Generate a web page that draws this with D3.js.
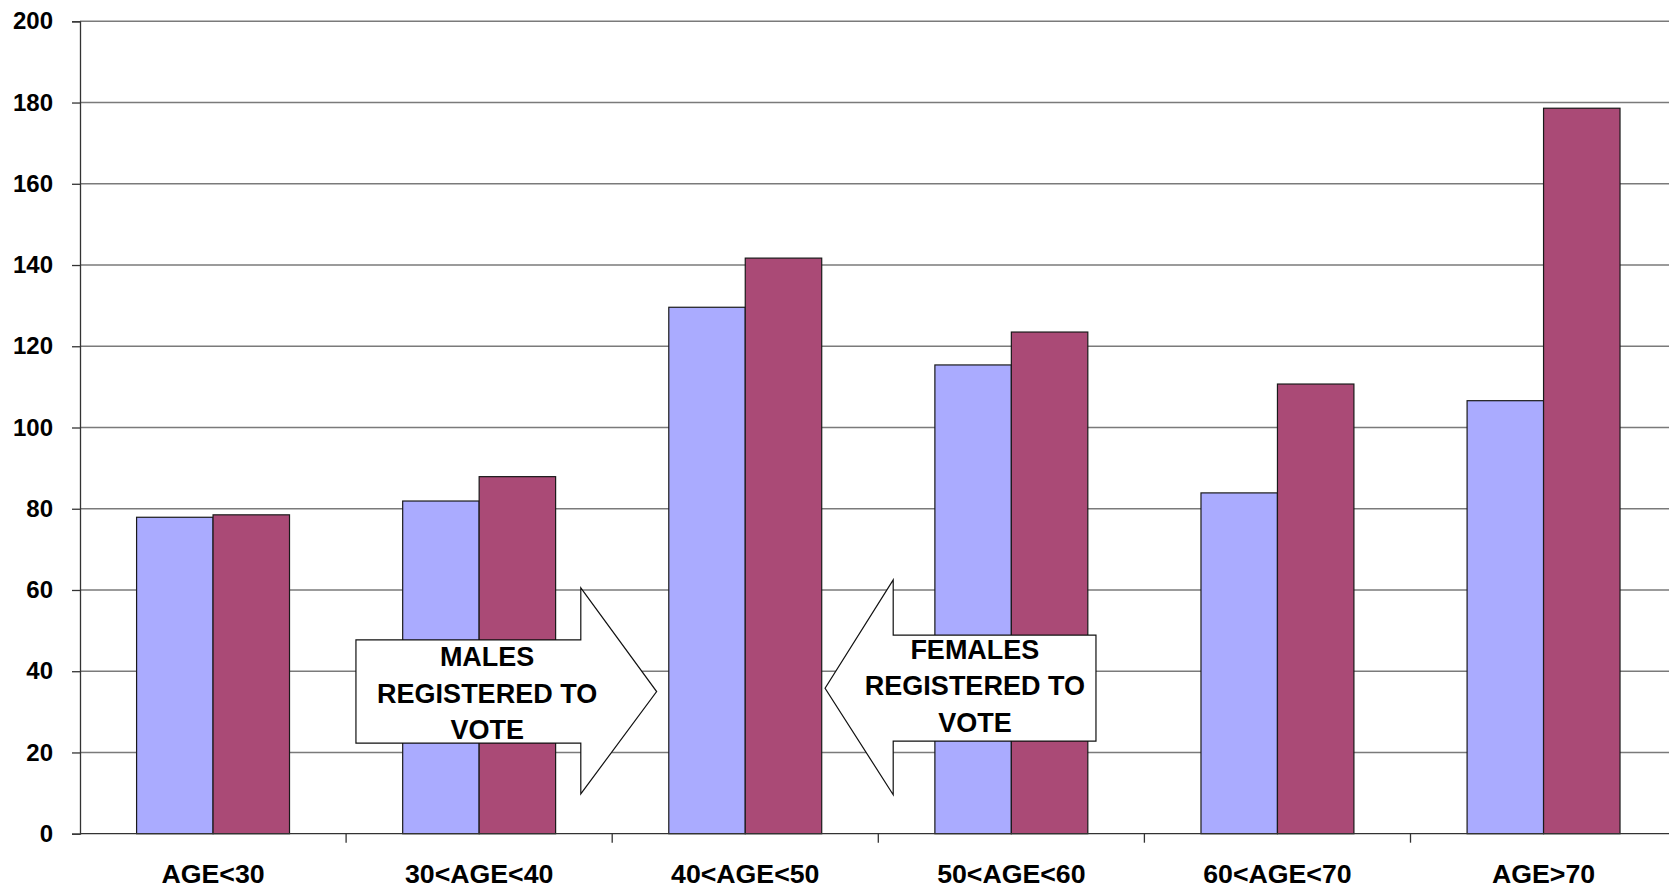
<!DOCTYPE html>
<html lang="en">
<head>
    <meta charset="UTF-8">
    <title>Registered voters by age</title>
    <style>
        body { margin: 0; background: #fff; }
        svg { display: block; }
        .grid line { stroke: #7a7a7a; stroke-width: 1.5; }
        .axis text { font-family: "Liberation Sans", Arial, sans-serif; font-weight: bold; fill: #000; }
        .axis path, .axis line { stroke: #333; stroke-width: 1.3; }
        .note text { font-family: "Liberation Sans", Arial, sans-serif; font-weight: bold; font-size: 27px; fill: #000; }
    </style>
</head>
<body>
    <div id="chart"></div>
    <script src="https://d3js.org/d3.v7.min.js"></script>
    <script>
        // data
        const categories = ["AGE<30", "30<AGE<40", "40<AGE<50", "50<AGE<60", "60<AGE<70", "AGE>70"];
        const series = ["males", "females"];
        const males = [77.9, 81.9, 129.6, 115.4, 83.9, 106.6];
        const females = [78.5, 87.9, 141.7, 123.5, 110.7, 178.6];
        const yTicks = [0, 20, 40, 60, 80, 100, 120, 140, 160, 180, 200];
        const colors = { males: "#aaabff", females: "#aa4a76" };

        // arrow notes: x in category units, y in value units
        const notes = [
            { lines: ["MALES", "REGISTERED TO", "VOTE"], dir: 1, back: 1.037, base: 1.882, tip: 2.167,
              boxTop: 47.7, boxBot: 22.3, headTop: 60.5, headBot: 9.8, mid: 35, textX: 1.530, textY: [666, 702.5, 738.5] },
            { lines: ["FEMALES", "REGISTERED TO", "VOTE"], dir: -1, back: 3.818, base: 3.056, tip: 2.800,
              boxTop: 48.9, boxBot: 22.8, headTop: 62.5, headBot: 9.6, mid: 35.8, textX: 3.363, textY: [659, 694.5, 731.5] }
        ];

        const width = 1669, height = 887;
        const plotLeft = 80, plotTop = 21.3, plotBottom = 833.7, band = 266.1;

        const svg = d3.select("#chart").append("svg")
            .attr("width", width)
            .attr("height", height);

        const y = d3.scaleLinear().domain([0, 200]).range([plotBottom, plotTop]);
        const x0 = d3.scaleBand().domain(categories).range([plotLeft, plotLeft + band * categories.length]);
        const x1 = d3.scaleBand().domain(series).range([0, x0.bandwidth()]).paddingOuter(0.74);
        const xc = d3.scaleLinear().domain([0, categories.length]).range([plotLeft, plotLeft + band * categories.length]);

        // gridlines
        svg.append("g").attr("class", "grid")
            .selectAll("line")
            .data(yTicks.filter(d => d > 0))
            .enter().append("line")
            .attr("x1", plotLeft).attr("x2", width)
            .attr("y1", d => y(d)).attr("y2", d => y(d));

        // bars
        const rows = categories.map((c, i) => ({ cat: c, males: males[i], females: females[i] }));
        svg.append("g")
            .selectAll("g")
            .data(rows)
            .enter().append("g")
            .attr("transform", d => `translate(${x0(d.cat)},0)`)
            .selectAll("rect")
            .data(d => series.map(s => ({ key: s, value: d[s] })))
            .enter().append("rect")
            .attr("x", d => x1(d.key))
            .attr("width", x1.bandwidth())
            .attr("y", d => y(d.value))
            .attr("height", d => y(0) - y(d.value))
            .attr("fill", d => colors[d.key])
            .attr("stroke", "#1a1a1a")
            .attr("stroke-width", 1.2);

        // y axis
        const yAxis = svg.append("g").attr("class", "axis")
            .attr("transform", `translate(${plotLeft},0)`)
            .call(d3.axisLeft(y).tickValues(yTicks).tickSizeOuter(0).tickSize(8).tickPadding(19));
        yAxis.selectAll("text").style("font-size", "24px");

        // x axis, ticks between categories
        const xAxis = svg.append("g").attr("class", "axis")
            .attr("transform", `translate(0,${plotBottom})`);
        xAxis.append("line")
            .attr("x1", plotLeft).attr("x2", width)
            .attr("y1", 0).attr("y2", 0);
        xAxis.selectAll(".tk")
            .data(d3.range(1, categories.length))
            .enter().append("line")
            .attr("class", "tk")
            .attr("x1", d => xc(d)).attr("x2", d => xc(d))
            .attr("y1", 0).attr("y2", 9);
        xAxis.selectAll(".lbl")
            .data(categories)
            .enter().append("text")
            .attr("class", "lbl")
            .attr("x", d => x0(d) + x0.bandwidth() / 2)
            .attr("y", 49)
            .attr("text-anchor", "middle")
            .style("font-size", "26.7px")
            .text(d => d);

        // arrow notes
        const note = svg.append("g").attr("class", "note")
            .selectAll("g")
            .data(notes)
            .enter().append("g");

        note.append("path")
            .attr("d", d => d3.line()([
                [xc(d.back), y(d.boxTop)], [xc(d.base), y(d.boxTop)], [xc(d.base), y(d.headTop)],
                [xc(d.tip), y(d.mid)],
                [xc(d.base), y(d.headBot)], [xc(d.base), y(d.boxBot)], [xc(d.back), y(d.boxBot)]
            ]) + "Z")
            .attr("fill", "#fff")
            .attr("stroke", "#111")
            .attr("stroke-width", 1.2);

        note.each(function (d) {
            d3.select(this).selectAll("text")
                .data(d.lines)
                .enter().append("text")
                .attr("x", xc(d.textX))
                .attr("y", (t, i) => d.textY[i])
                .attr("text-anchor", "middle")
                .text(t => t);
        });
    </script>
</body>
</html>
